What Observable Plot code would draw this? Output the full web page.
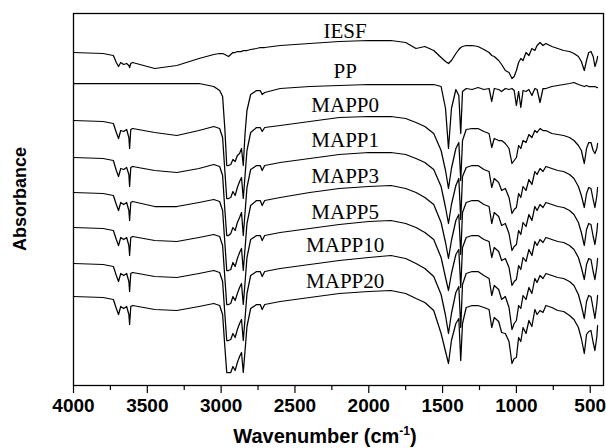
<!DOCTYPE html>
<html><head><meta charset="utf-8">
<script src="https://cdn.jsdelivr.net/npm/d3@7"></script>
<script src="https://cdn.jsdelivr.net/npm/@observablehq/plot@0.6"></script>
<style>html,body{margin:0;padding:0;background:#fff;} svg{display:block}</style>
</head><body><div id="chart"></div>
<script>
// Wavenumber grid (cm^-1)
const wavenumbers = [4000,3800,3730,3710,3695,3680,3660,3640,3625,3620,
3612,3600,3450,3300,3150,3050,3010,2990,2975,2962,
2950,2935,2920,2905,2890,2875,2862,2850,2838,2825,
2800,2760,2735,2722,2705,2600,2400,2200,2000,1850,
1750,1680,1620,1560,1510,1480,1460,1440,1410,1390,
1377,1365,1340,1300,1260,1220,1185,1167,1150,1120,
1100,1075,1050,1030,1015,1000,985,970,955,935,
915,895,875,860,840,820,800,760,720,680,
640,610,580,560,540,525,510,495,480,468,
455,450];

// Band depth of each spectrum (a.u., larger = deeper band)
const IESF = [0,1,3,10,14,10,12,11,13,15,
11,10,16,13,6,2,1,1,2,3,
4,2,0,0,-1,-1,-1,-2,-2,-2,
-3,-4,-5,-5,-5,-7,-9,-11,-12,-12,
-10,-4,-6,-2,5,9,11,8,1,-3,
-5,-6,-7,-7,-6,-3,0,3,4,8,
12,18,20,26,24,18,10,6,8,0,
3,-4,-2,-7,-10,-7,-9,-6,-4,-2,
-1,1,4,9,18,8,0,-1,4,14,
8,4];
const PP = [0,0,0,0,0,0,0,0,0,0,
0,0,0,0,0,3,7,13,45,82,
82,81,76,78,72,70,65,82,50,27,
11,7,7,11,9,5,3,2,1,1,
1,1,1,1,3,25,65,25,6,12,
50,8,5,6,4,6,5,18,5,6,
8,5,6,5,7,22,8,24,7,8,
6,12,5,6,19,5,5,3,2,1,
0,-1,1,2,3,2,3,3,3,3,
4,4];
const MAPP0 = [0,1,3,12,18,10,11,9,17,28,
9,8,12,15,10,6,8,17,50,78,
78,77,71,75,67,61,57,78,55,30,
12,7,7,11,7,5,1,-3,-4,-4,
-2,2,6,13,30,50,68,48,28,22,
60,20,9,8,8,11,13,27,18,20,
20,23,28,43,40,37,25,28,20,22,
14,17,10,12,8,10,10,13,14,15,
17,20,25,30,43,28,22,22,30,33,
28,23];
const MAPP1 = [0,1,3,13,19,11,12,10,17,29,
10,9,13,15,11,7,9,18,52,78,
78,76,70,73,65,60,55,78,55,30,
12,8,8,13,8,5,1,-3,-5,-5,
-3,1,5,12,29,50,66,47,28,21,
62,19,10,8,8,12,14,30,21,25,
33,31,40,56,52,50,36,40,29,33,
22,27,14,17,11,14,9,11,13,14,
17,21,29,38,50,36,30,31,42,50,
38,30];
const MAPP3 = [0,1,3,12,18,10,12,10,18,28,
10,9,14,14,10,7,9,18,50,78,
78,77,70,74,66,60,56,78,56,31,
13,8,8,13,8,5,0,-4,-6,-7,
-4,0,5,12,30,50,66,48,28,22,
62,20,10,8,8,12,14,31,20,24,
33,31,41,58,54,52,38,42,30,34,
22,28,14,18,12,15,10,12,14,15,
18,22,30,40,53,37,31,32,44,52,
39,31];
const MAPP5 = [0,1,3,12,18,10,12,10,18,28,
10,9,13,14,10,7,9,18,50,77,
77,76,69,73,66,60,56,77,55,30,
12,8,8,13,8,5,1,-3,-6,-7,
-4,0,5,12,30,50,63,46,27,22,
60,20,10,8,8,12,14,30,20,24,
33,31,40,58,54,52,38,42,30,34,
22,28,14,18,12,15,10,12,14,15,
18,22,30,40,52,37,31,32,44,52,
39,31];
const MAPP10 = [0,1,3,12,18,10,12,10,18,28,
10,9,13,14,10,7,9,18,50,77,
77,76,70,74,66,60,56,77,55,30,
12,8,8,13,8,5,1,-3,-6,-8,
-5,0,5,13,31,52,70,50,29,23,
64,21,10,8,8,12,15,32,22,26,
36,33,44,66,60,57,42,45,32,36,
24,30,15,19,12,15,10,12,14,15,
18,22,31,42,55,38,32,33,45,55,
40,32];
const MAPP20 = [0,1,3,12,18,10,12,10,18,28,
10,9,13,14,10,7,9,18,50,76,
76,76,70,74,66,60,56,76,54,30,
12,8,8,13,8,5,1,-3,-5,-6,
-3,2,6,14,37,55,67,44,27,22,
64,27,11,9,9,11,13,31,21,25,
36,37,45,67,62,61,41,45,31,37,
24,30,13,18,14,16,9,11,14,15,
19,23,31,42,57,38,35,34,46,54,
40,29];

const seriesNames = ["IESF","PP","MAPP0","MAPP1","MAPP3","MAPP5","MAPP10","MAPP20"];
// vertical stacking offsets of the spectra (a.u.)
const offsets = [333,302,265,228,193,158,122,89];
// label anchor heights (a.u.) and wavenumber
const labelY = [354,314,280,245,209,173,140,104];
const labelWavenumber = 2160;
const majorTicks = [4000,3500,3000,2500,2000,1500,1000,500];
const minorTicks = [3750,3250,2750,2250,1750,1250,750];

const depth = {IESF, PP, MAPP0, MAPP1, MAPP3, MAPP5, MAPP10, MAPP20};
const rows = seriesNames.flatMap((name, i) =>
  wavenumbers.map((w, j) => ({name, w, a: offsets[i] - depth[name][j]})));
const labels = seriesNames.map((name, i) => ({name, w: labelWavenumber, a: labelY[i]}));

const W = 606, H = 448, ML = 73, MR = 3, MT = 13, MB = 63;
const chart = Plot.plot({
  width: W, height: H,
  marginLeft: ML, marginRight: MR, marginTop: MT, marginBottom: MB,
  style: {fontFamily: "'Liberation Sans', Arial, sans-serif", background: "#fff", color: "#000"},
  x: {domain: [4000, 410]},
  y: {domain: [0, 372], axis: null},
  marks: [
    Plot.axisX(minorTicks, {tickSize: 5, text: null, label: null, strokeWidth: 1.2}),
    Plot.axisX(majorTicks, {tickSize: 8, tickPadding: 5, fontSize: 19, fontWeight: "bold", label: null, strokeWidth: 1.2, tickFormat: d => String(d)}),
    Plot.line(rows, {x: "w", y: "a", z: "name", stroke: "#000", strokeWidth: 1.25}),
    Plot.text(labels, {x: "w", y: "a", text: "name", fontFamily: "'Liberation Serif', 'Times New Roman', serif", fontSize: 21, fill: "#000"}),
    Plot.frame({stroke: "#000", strokeWidth: 1.3})
  ]
});
document.getElementById("chart").appendChild(chart);

const svg = d3.select(chart);
const cx = 325;
const xt = svg.append("text")
  .attr("x", cx).attr("y", 443)
  .attr("text-anchor", "middle")
  .attr("font-family", "'Liberation Sans', Arial, sans-serif")
  .attr("font-weight", "bold").attr("font-size", 20).attr("fill", "#000");
xt.append("tspan").text("Wavenumber (cm");
xt.append("tspan").attr("dy", -8).attr("font-size", 12).text("-1");
xt.append("tspan").attr("dy", 8).text(")");

svg.append("text")
  .attr("transform", `translate(26,${MT + (H - MT - MB) / 2}) rotate(-90)`)
  .attr("text-anchor", "middle")
  .attr("font-family", "'Liberation Sans', Arial, sans-serif")
  .attr("font-weight", "bold").attr("font-size", 18).attr("fill", "#000")
  .text("Absorbance");
</script></body></html>
